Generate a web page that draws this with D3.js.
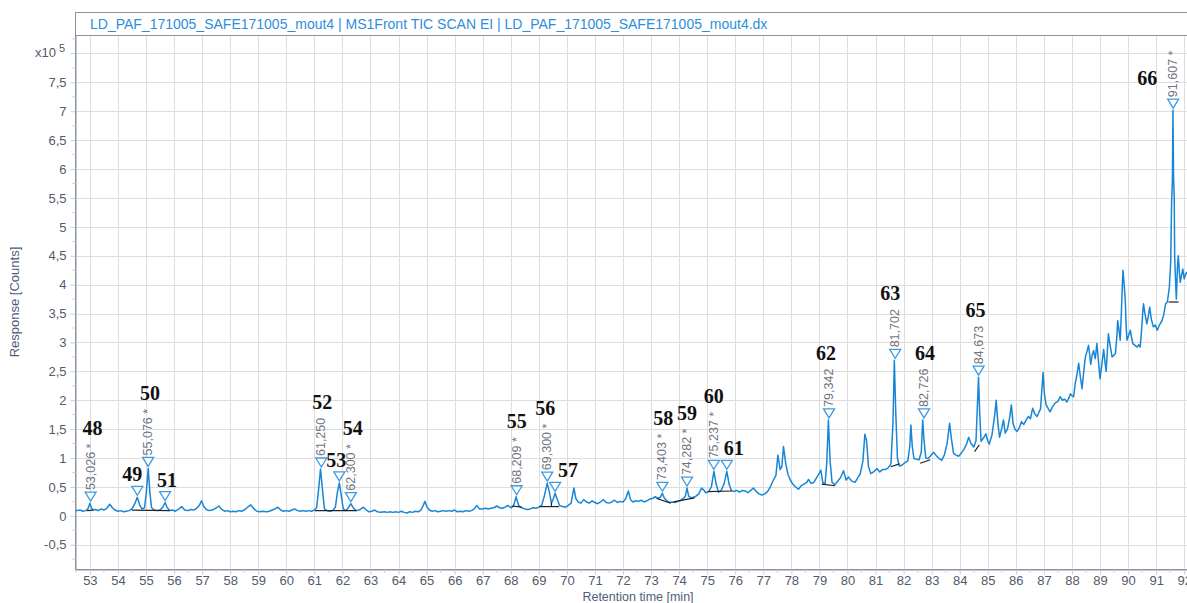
<!DOCTYPE html>
<html><head><meta charset="utf-8">
<script src="https://cdn.jsdelivr.net/npm/d3@7"></script>
<style>
body{margin:0;background:#fff;}
svg{display:block;font-family:"Liberation Sans",Arial,sans-serif;}
</style></head><body>
<svg id="chart" width="1187" height="603"></svg>
<script>
// ---------- DATA ----------
const titleText = "LD_PAF_171005_SAFE171005_mout4 | MS1Front TIC SCAN EI | LD_PAF_171005_SAFE171005_mout4.dx";
const xAxisTitle = "Retention time [min]";
const yAxisTitle = "Response [Counts]";
const xTickLabels = [53,54,55,56,57,58,59,60,61,62,63,64,65,66,67,68,69,70,71,72,73,74,75,76,77,78,79,80,81,82,83,84,85,86,87,88,89,90,91,92];
const yTickLabels = [-0.5,0,0.5,1,1.5,2,2.5,3,3.5,4,4.5,5,5.5,6,6.5,7,7.5];
const yExponentTick = 8;

// TIC trace: [retention time (min), response (x10^5 counts)]
const tic = [
[52.47,0.10],[52.55,0.09],[52.65,0.10],[52.75,0.08],[52.85,0.09],[52.93,0.12],[53.00,0.22],[53.06,0.13],[53.12,0.10],[53.2,0.11],
[53.3,0.09],[53.4,0.12],[53.5,0.10],[53.6,0.13],[53.71,0.20],[53.8,0.14],[53.9,0.10],[54.0,0.08],[54.1,0.09],[54.2,0.07],
[54.3,0.08],[54.4,0.09],[54.5,0.12],[54.6,0.21],[54.69,0.32],[54.78,0.18],[54.86,0.12],[54.95,0.14],[55.02,0.45],[55.08,0.82],
[55.14,0.40],[55.2,0.14],[55.3,0.10],[55.4,0.09],[55.5,0.10],[55.6,0.15],[55.68,0.23],[55.76,0.14],[55.85,0.09],[55.95,0.10],
[56.05,0.08],[56.15,0.11],[56.27,0.16],[56.38,0.10],[56.5,0.09],[56.6,0.11],[56.7,0.10],[56.8,0.13],[56.9,0.18],[56.98,0.26],
[57.06,0.16],[57.15,0.11],[57.25,0.09],[57.35,0.10],[57.45,0.12],[57.6,0.17],[57.7,0.11],[57.8,0.08],[57.9,0.09],[58.0,0.07],
[58.1,0.08],[58.2,0.07],[58.3,0.09],[58.4,0.08],[58.5,0.10],[58.6,0.14],[58.73,0.19],[58.85,0.12],[58.95,0.08],[59.05,0.07],
[59.15,0.08],[59.3,0.07],[59.4,0.08],[59.5,0.10],[59.6,0.12],[59.7,0.15],[59.8,0.10],[59.9,0.08],[60.0,0.09],[60.1,0.08],
[60.2,0.10],[60.3,0.12],[60.4,0.09],[60.5,0.08],[60.6,0.09],[60.7,0.08],[60.8,0.09],[60.9,0.08],[61.0,0.10],[61.08,0.14],
[61.15,0.45],[61.22,0.81],[61.29,0.45],[61.36,0.12],[61.45,0.09],[61.55,0.08],[61.65,0.09],[61.75,0.15],[61.82,0.40],[61.89,0.57],
[61.96,0.35],[62.03,0.12],[62.12,0.09],[62.2,0.13],[62.3,0.21],[62.4,0.13],[62.5,0.09],[62.6,0.10],[62.75,0.15],[62.85,0.10],
[62.95,0.07],[63.05,0.08],[63.15,0.10],[63.25,0.07],[63.35,0.06],[63.5,0.07],[63.6,0.06],[63.7,0.07],[63.8,0.06],[63.9,0.07],
[64.0,0.06],[64.1,0.08],[64.2,0.06],[64.3,0.05],[64.4,0.07],[64.5,0.06],[64.6,0.08],[64.7,0.07],[64.8,0.10],[64.88,0.18],
[64.94,0.25],[65.02,0.15],[65.1,0.10],[65.2,0.08],[65.3,0.09],[65.4,0.07],[65.5,0.08],[65.6,0.09],[65.7,0.08],[65.8,0.09],
[65.9,0.08],[66.0,0.10],[66.1,0.07],[66.2,0.08],[66.3,0.07],[66.4,0.09],[66.5,0.08],[66.6,0.09],[66.7,0.12],[66.79,0.18],
[66.88,0.12],[66.98,0.12],[67.1,0.13],[67.2,0.12],[67.3,0.13],[67.4,0.14],[67.5,0.17],[67.6,0.14],[67.7,0.13],[67.8,0.15],
[67.9,0.18],[68.0,0.14],[68.1,0.17],[68.19,0.33],[68.28,0.18],[68.38,0.14],[68.5,0.12],[68.6,0.11],[68.7,0.12],[68.8,0.14],
[68.9,0.13],[69.0,0.15],[69.1,0.18],[69.2,0.35],[69.3,0.565],[69.38,0.40],[69.45,0.22],[69.52,0.30],[69.58,0.39],[69.66,0.28],
[69.74,0.18],[69.85,0.16],[69.95,0.15],[70.05,0.18],[70.15,0.22],[70.25,0.48],[70.32,0.30],[70.4,0.24],[70.5,0.22],[70.6,0.28],
[70.7,0.24],[70.8,0.22],[70.9,0.26],[71.0,0.23],[71.1,0.21],[71.2,0.24],[71.3,0.28],[71.4,0.23],[71.5,0.22],[71.6,0.24],
[71.7,0.27],[71.8,0.23],[71.9,0.25],[72.0,0.24],[72.1,0.30],[72.19,0.43],[72.27,0.28],[72.35,0.24],[72.45,0.26],[72.55,0.25],
[72.65,0.27],[72.75,0.24],[72.85,0.26],[72.95,0.29],[73.05,0.30],[73.15,0.33],[73.25,0.30],[73.33,0.32],[73.40,0.39],[73.47,0.31],
[73.55,0.27],[73.65,0.23],[73.75,0.24],[73.85,0.23],[73.95,0.25],[74.05,0.27],[74.15,0.30],[74.22,0.34],[74.28,0.48],[74.34,0.34],
[74.42,0.31],[74.5,0.32],[74.6,0.34],[74.7,0.38],[74.8,0.48],[74.87,0.45],[74.95,0.40],[75.05,0.42],[75.15,0.50],[75.24,0.77],
[75.32,0.55],[75.4,0.41],[75.5,0.44],[75.6,0.55],[75.70,0.77],[75.78,0.55],[75.86,0.44],[75.95,0.42],[76.05,0.44],[76.15,0.41],
[76.25,0.44],[76.35,0.43],[76.45,0.40],[76.55,0.44],[76.65,0.48],[76.75,0.42],[76.85,0.38],[76.95,0.36],[77.05,0.38],[77.15,0.42],
[77.25,0.50],[77.36,0.62],[77.45,0.70],[77.52,1.05],[77.6,0.80],[77.66,0.85],[77.72,1.20],[77.8,0.90],[77.88,0.72],[77.96,0.62],
[78.05,0.55],[78.15,0.50],[78.25,0.46],[78.35,0.52],[78.45,0.55],[78.55,0.58],[78.61,0.63],[78.7,0.56],[78.8,0.58],[78.9,0.66],
[79.0,0.74],[79.05,0.79],[79.12,0.58],[79.2,0.55],[79.26,0.90],[79.32,1.66],[79.38,0.95],[79.45,0.58],[79.55,0.54],[79.65,0.60],
[79.75,0.66],[79.86,0.78],[79.95,0.62],[80.04,0.67],[80.15,0.60],[80.27,0.58],[80.37,0.66],[80.45,0.72],[80.55,0.95],[80.62,1.41],
[80.68,1.30],[80.75,0.85],[80.83,0.73],[80.93,0.76],[81.05,0.82],[81.15,0.76],[81.25,0.80],[81.34,0.80],[81.45,0.83],[81.55,0.90],
[81.62,1.60],[81.67,2.69],[81.72,1.80],[81.78,1.00],[81.85,0.86],[81.95,0.88],[82.05,0.92],[82.15,0.95],[82.22,1.20],[82.26,1.57],
[82.31,1.20],[82.37,0.99],[82.46,0.98],[82.55,0.97],[82.63,1.10],[82.68,1.66],[82.73,1.30],[82.79,1.00],[82.86,0.99],[82.95,1.03],
[83.07,1.10],[83.15,1.05],[83.25,1.00],[83.36,0.96],[83.45,1.05],[83.55,1.25],[83.64,1.60],[83.70,1.35],[83.78,1.08],[83.87,1.05],
[83.96,1.03],[84.05,1.08],[84.15,1.15],[84.25,1.25],[84.32,1.36],[84.40,1.25],[84.5,1.19],[84.58,1.30],[84.63,1.90],[84.67,2.40],
[84.71,1.80],[84.76,1.29],[84.85,1.35],[84.93,1.42],[85.0,1.30],[85.05,1.24],[85.15,1.40],[85.25,1.75],[85.30,2.00],[85.36,1.60],
[85.42,1.36],[85.5,1.52],[85.56,1.66],[85.62,1.43],[85.7,1.50],[85.78,1.70],[85.84,1.92],[85.9,1.60],[85.97,1.50],[86.04,1.46],
[86.12,1.52],[86.2,1.63],[86.28,1.58],[86.37,1.66],[86.45,1.72],[86.52,1.68],[86.6,1.86],[86.68,1.76],[86.76,1.72],[86.83,1.80],
[86.88,1.85],[86.93,2.20],[86.97,2.48],[87.02,2.10],[87.08,1.92],[87.15,1.86],[87.22,1.80],[87.3,1.88],[87.4,1.95],[87.5,1.98],
[87.58,2.06],[87.66,2.00],[87.74,2.02],[87.82,1.97],[87.9,2.05],[87.94,2.11],[88.0,2.08],[88.06,2.06],[88.12,2.30],[88.18,2.45],
[88.24,2.64],[88.30,2.40],[88.36,2.20],[88.42,2.50],[88.48,2.75],[88.54,2.85],[88.59,2.95],[88.63,2.80],[88.67,2.62],[88.72,2.78],
[88.77,2.86],[88.83,2.72],[88.89,2.98],[88.94,2.70],[89.0,2.37],[89.06,2.60],[89.13,2.88],[89.18,2.65],[89.22,2.50],[89.26,2.85],
[89.3,3.15],[89.36,2.95],[89.43,2.75],[89.5,2.78],[89.55,2.81],[89.6,3.10],[89.63,3.38],[89.68,3.20],[89.72,3.04],[89.76,3.50],
[89.8,4.05],[89.82,4.25],[89.86,4.00],[89.9,3.73],[89.93,3.30],[89.96,3.04],[90.02,3.12],[90.08,3.21],[90.12,3.10],[90.17,2.98],
[90.25,2.95],[90.32,2.92],[90.38,2.96],[90.43,2.92],[90.48,3.20],[90.52,3.50],[90.55,3.67],[90.6,3.50],[90.64,3.40],[90.67,3.32],
[90.72,3.45],[90.77,3.61],[90.83,3.40],[90.9,3.27],[90.97,3.30],[91.04,3.21],[91.1,3.28],[91.16,3.34],[91.21,3.38],[91.27,3.48],
[91.34,3.67],[91.40,3.70],[91.47,3.95],[91.52,4.40],[91.55,5.40],[91.58,5.80],[91.60,7.02],[91.62,5.90],[91.645,5.50],[91.66,4.50],
[91.69,4.10],[91.72,3.75],[91.76,4.30],[91.79,4.50],[91.83,4.20],[91.86,4.04],[91.9,4.15],[91.95,4.27],[92.0,4.10],[92.05,4.18],[92.1,4.22]
];

// Integrated peaks: id, retention time, apex response, label
const peakIds    = [48,49,50,51,52,53,54,55,56,57,58,59,60,61,62,63,64,65,66];
const peakTimes  = [53.026,54.69,55.076,55.68,61.250,61.89,62.300,68.209,69.300,69.58,73.403,74.282,75.237,75.70,79.342,81.702,82.726,84.673,91.607];
const peakApex   = [0.22,0.32,0.82,0.23,0.81,0.57,0.21,0.33,0.565,0.39,0.39,0.48,0.77,0.77,1.66,2.69,1.66,2.40,7.02];
const peakLabels = ["53,026 *","","55,076 *","","61,250","","62,300 *","68,209 *","69,300 *","","73,403 *","74,282 *","75,237 *","","79,342","81,702","82,726","84,673","91,607 *"];

// Integration baselines: [start rt, start resp, end rt, end resp]
const baselines = [
[52.9,0.09,53.12,0.10],[54.5,0.10,55.85,0.09],[61.02,0.09,62.5,0.09],[68.03,0.17,68.39,0.15],
[69.02,0.16,69.72,0.16],[69.45,0.16,69.45,0.23],[73.2,0.30,73.7,0.22],[73.8,0.24,74.55,0.31],
[75.04,0.42,75.88,0.43],[79.08,0.55,79.56,0.52],[81.54,0.85,81.85,0.90],[82.59,0.91,82.95,0.97],
[84.53,1.11,84.70,1.23],[91.44,3.70,91.80,3.70]
];

// ---------- LAYOUT ----------
const W = 1187, H = 603;
const L = 75, R = 1187, T = 35, B = 569, TT = 12;
const numberNudgeX = {48:2,49:-5,50:2,51:2,52:1,53:-3,54:2,55:0,56:-2,57:13,58:1,59:0,60:0,61:7,62:-3,63:-5,64:1,65:-3,66:-26};

const svg = d3.select("#chart");
const x = d3.scaleLinear().domain([52.47, 92.1]).range([L, R]);
const y = d3.scaleLinear().domain([-0.92, 8.32]).range([B, T]);

// title box
svg.append("rect").attr("x", L+0.5).attr("y", TT+0.5).attr("width", R-L).attr("height", B-TT)
  .attr("fill", "#fff").attr("stroke", "#8a91a3");
svg.append("line").attr("x1", L).attr("x2", R).attr("y1", T+0.5).attr("y2", T+0.5).attr("stroke", "#8a91a3");
svg.append("text").attr("x", 90).attr("y", 28.5).attr("fill", "#2e8ddc").attr("font-size", 14).text(titleText);

// grid
const grid = svg.append("g");
grid.selectAll(".vg").data(xTickLabels).join("line")
  .attr("x1", d => Math.round(x(d))+0.5).attr("x2", d => Math.round(x(d))+0.5)
  .attr("y1", T+1).attr("y2", B).attr("stroke", "#dedede");
grid.selectAll(".hg").data(yTickLabels.concat([yExponentTick])).join("line")
  .attr("x1", L+1).attr("x2", R).attr("y1", d => Math.round(y(d))+0.5).attr("y2", d => Math.round(y(d))+0.5)
  .attr("stroke", "#dedede");

// axes
const fmt = d => String(d).replace(".", ",");
const xAxis = d3.axisBottom(x).tickValues(xTickLabels).tickFormat(d => d).tickSize(5).tickSizeOuter(0);
const gx = svg.append("g").attr("transform", `translate(0,${B+0.5})`).call(xAxis);
gx.select(".domain").attr("stroke", "#8a91a3");
gx.selectAll(".tick line").attr("stroke", "#c8cad0");
gx.selectAll(".tick text").attr("fill", "#545b6b").attr("font-size", 13).attr("y", 6).attr("dy", "0.71em")
  .attr("font-family", "Liberation Sans, Arial, sans-serif");
const xMinor = d3.range(52.5, 92.1, 1);
gx.selectAll(".minor").data(xMinor).join("line").attr("class","minor")
  .attr("x1", d => x(d)).attr("x2", d => x(d)).attr("y1", 0).attr("y2", 3).attr("stroke", "#c8cad0");

const yAxis = d3.axisLeft(y).tickValues(yTickLabels).tickFormat(fmt).tickSize(5).tickSizeOuter(0);
const gy = svg.append("g").attr("transform", `translate(${L+0.5},0)`).call(yAxis);
gy.select(".domain").attr("stroke", "#8a91a3");
gy.selectAll(".tick line").attr("stroke", "#c8cad0");
gy.selectAll(".tick text").attr("fill", "#545b6b").attr("font-size", 13).attr("x", -9)
  .attr("font-family", "Liberation Sans, Arial, sans-serif");
const yMinor = d3.range(-0.75, 8.3, 0.25).filter(v => Math.abs(v*2 - Math.round(v*2)) > 0.01);
gy.selectAll(".minor").data(yMinor).join("line").attr("class","minor")
  .attr("x1", -3).attr("x2", 0).attr("y1", d => y(d)).attr("y2", d => y(d)).attr("stroke", "#c8cad0");
gy.append("line").attr("x1", -5).attr("x2", 0).attr("y1", y(yExponentTick)).attr("y2", y(yExponentTick)).attr("stroke", "#c8cad0");

// exponent label
svg.append("text").attr("x", 56).attr("y", y(yExponentTick)+4).attr("text-anchor", "end")
  .attr("fill", "#545b6b").attr("font-size", 13).text("x10");
svg.append("text").attr("x", 59).attr("y", y(yExponentTick)-1).attr("fill", "#545b6b").attr("font-size", 11).text("5");

// axis titles
svg.append("text").attr("transform", `translate(19,${(T+B)/2}) rotate(-90)`).attr("text-anchor", "middle")
  .attr("fill", "#4f5d7a").attr("font-size", 13).text(yAxisTitle);
svg.append("text").attr("x", 638).attr("y", 601).attr("text-anchor", "middle")
  .attr("fill", "#4f5d7a").attr("font-size", 12.5).text(xAxisTitle);

// clip
svg.append("clipPath").attr("id", "plotclip").append("rect")
  .attr("x", L+1).attr("y", T+1).attr("width", R-L-1).attr("height", B-T-1);
const plot = svg.append("g").attr("clip-path", "url(#plotclip)");

// trace
const line = d3.line().x(d => x(d[0])).y(d => y(d[1]));
plot.append("path").datum(tic).attr("d", line).attr("fill", "none")
  .attr("stroke", "#1786d6").attr("stroke-width", 1.5).attr("stroke-linejoin", "round");

// baselines
plot.selectAll(".bl").data(baselines).join("line")
  .attr("x1", d => x(d[0])).attr("y1", d => y(d[1])).attr("x2", d => x(d[2])).attr("y2", d => y(d[3]))
  .attr("stroke", "#222").attr("stroke-width", 1.2);

// peaks
const peaks = peakIds.map((id, i) => ({id, t: peakTimes[i], v: peakApex[i], label: peakLabels[i]}));
const ann = svg.append("g");
peaks.forEach(p => {
  const px = x(p.t), apexY = y(p.v) - 2;
  const triTop = apexY - 9;
  ann.append("path").attr("d", `M${px-5.5},${triTop}L${px+5.5},${triTop}L${px},${apexY}Z`)
    .attr("fill", "#fff").attr("fill-opacity", 0.6).attr("stroke", "#3d9be2").attr("stroke-width", 1.3);
  let top = triTop;
  if (p.label) {
    const t = ann.append("text").attr("transform", `translate(${px+4},${triTop-2}) rotate(-90)`)
      .attr("fill", "#71757f").attr("font-size", 12.5).text(p.label);
    top = triTop - 2 - t.node().getComputedTextLength();
  }
  let ny = p.label ? top - 9 : top - 5;
  let nx = px + (numberNudgeX[p.id] || 0);
  if (ny - 14 < T) { ny = triTop - 14; }
  ann.append("text").attr("x", nx).attr("y", ny).attr("text-anchor", "middle")
    .attr("font-family", "Liberation Serif, 'Times New Roman', serif").attr("font-weight", "bold")
    .attr("font-size", 20).attr("fill", "#111").text(p.id);
});
</script>
</body></html>
